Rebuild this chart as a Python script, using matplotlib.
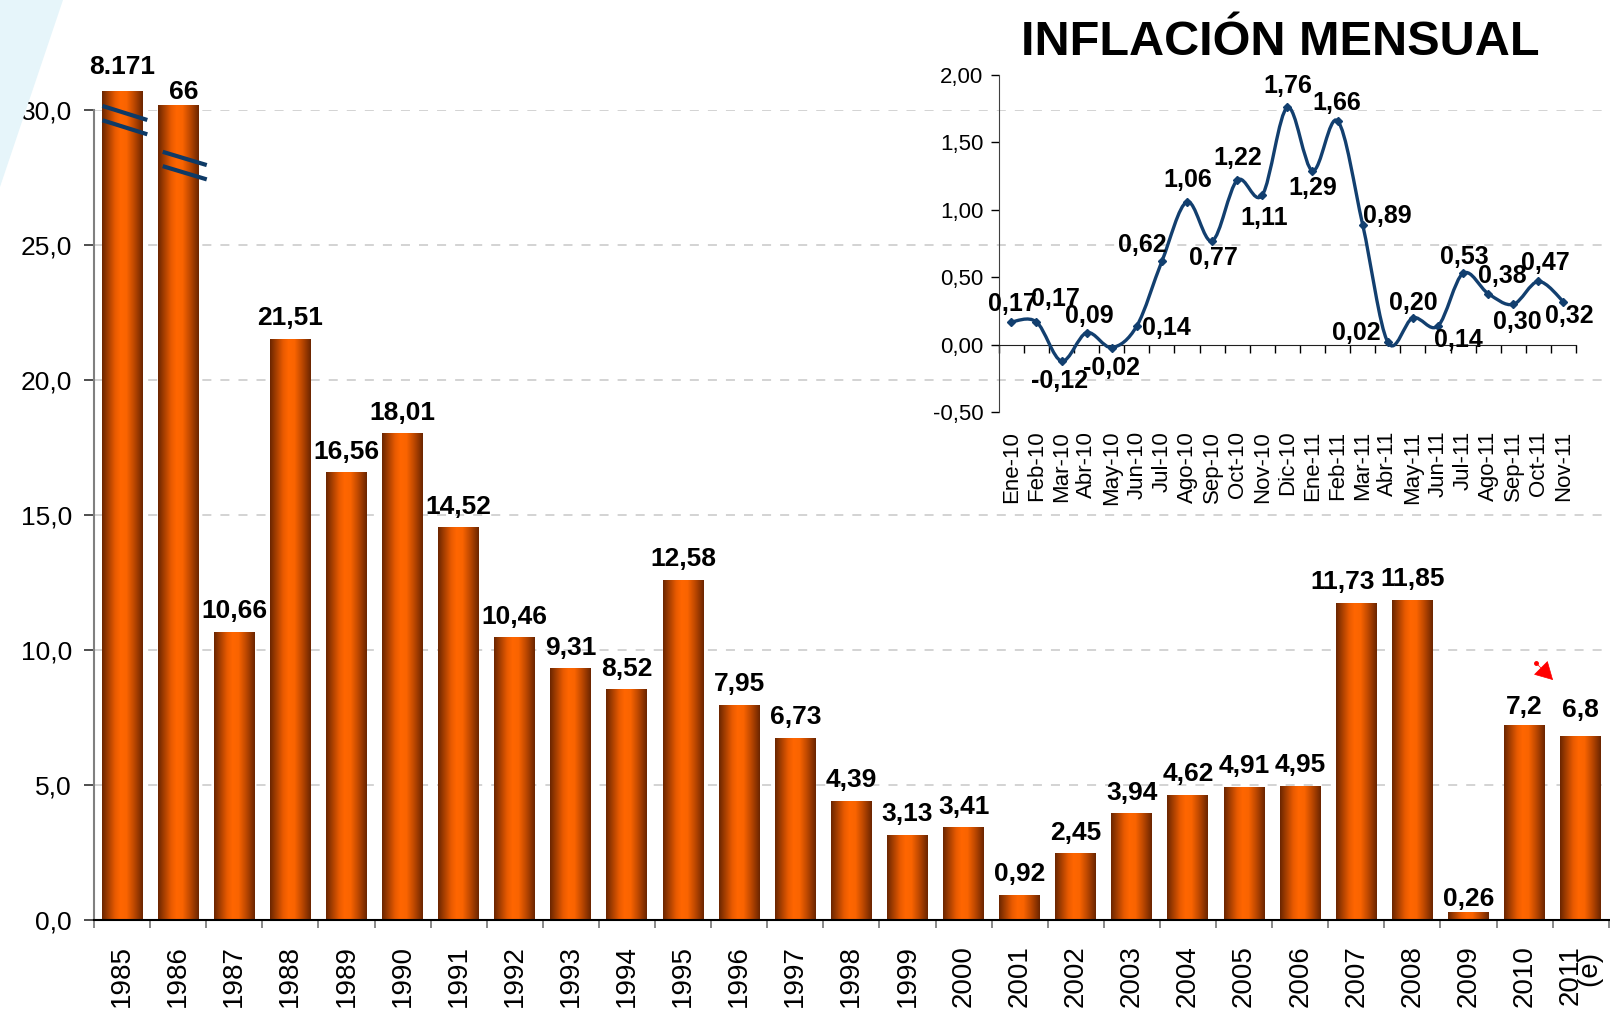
import numpy as np
import matplotlib
matplotlib.use("Agg")
import matplotlib.pyplot as plt
from matplotlib.colors import LinearSegmentedColormap
from matplotlib.path import Path
from matplotlib.patches import PathPatch, Polygon, FancyArrowPatch
from matplotlib.lines import Line2D
from matplotlib.transforms import blended_transform_factory

plt.rcParams['font.family'] = ['Liberation Sans', 'DejaVu Sans']

# annual inflation (bars)
years = [str(y) for y in range(1985, 2012)]
year_labels = years[:-1] + ['2011\n(e) ']
values = [8171, 66, 10.66, 21.51, 16.56, 18.01, 14.52, 10.46, 9.31, 8.52, 12.58,
          7.95, 6.73, 4.39, 3.13, 3.41, 0.92, 2.45, 3.94, 4.62, 4.91, 4.95,
          11.73, 11.85, 0.26, 7.2, 6.8]
value_labels = ['8.171', '66', '10,66', '21,51', '16,56', '18,01', '14,52', '10,46',
                '9,31', '8,52', '12,58', '7,95', '6,73', '4,39', '3,13', '3,41',
                '0,92', '2,45', '3,94', '4,62', '4,91', '4,95', '11,73', '11,85',
                '0,26', '7,2', '6,8']
# heights drawn for the two off-scale (broken) bars
broken_heights = {0: 30.7, 1: 30.15}

# monthly inflation (inset)
months = ['Ene-10', 'Feb-10', 'Mar-10', 'Abr-10', 'May-10', 'Jun-10', 'Jul-10',
          'Ago-10', 'Sep-10', 'Oct-10', 'Nov-10', 'Dic-10', 'Ene-11', 'Feb-11',
          'Mar-11', 'Abr-11', 'May-11', 'Jun-11', 'Jul-11', 'Ago-11', 'Sep-11',
          'Oct-11', 'Nov-11']
monthly = [0.17, 0.17, -0.12, 0.09, -0.02, 0.14, 0.62, 1.06, 0.77, 1.22, 1.11,
           1.76, 1.29, 1.66, 0.89, 0.02, 0.20, 0.14, 0.53, 0.38, 0.30, 0.47, 0.32]

W, H = 1610, 1010
fig = plt.figure(figsize=(W / 100, H / 100), dpi=100)
fig.patch.set_facecolor('white')

# pale decoration top-left
fig.patches.append(Polygon([(0, 1), (63 / W, 1), (0, 1 - 187 / H)], closed=True,
                           transform=fig.transFigure, facecolor='#E6F5FA',
                           edgecolor='none', zorder=0))

# ---- main bar chart ----
ax = fig.add_axes([94 / W, 1 - 920 / H, (1608.7 - 94) / W, (920 - 110) / H])
ax.set_facecolor('none')
x = np.arange(len(years))
shown = [broken_heights.get(i, v) for i, v in enumerate(values)]
bars = ax.bar(x, shown, width=0.73, color='none', edgecolor='none', zorder=2,
              clip_on=False)

cmap = LinearSegmentedColormap.from_list('bar', [
    (0.0, '#6A2500'), (0.12, '#9A3A00'), (0.32, '#E85A00'), (0.45, '#FF6600'),
    (0.6, '#FA6400'), (0.8, '#B84600'), (1.0, '#6A2500')])
grad = np.linspace(0, 1, 256).reshape(1, -1)
for b in bars:
    x0, w, h = b.get_x(), b.get_width(), b.get_height()
    ax.imshow(grad, cmap=cmap, aspect='auto', extent=[x0, x0 + w, 0, h],
              interpolation='bilinear', zorder=2, clip_on=False)

ax.set_xlim(-0.5, len(years) - 0.5)
ax.set_ylim(0, 30)
ax.set_yticks(np.arange(0, 31, 5))
ax.set_yticklabels([f'{v:.1f}'.replace('.', ',') for v in np.arange(0, 31, 5)])
ax.yaxis.grid(True, linestyle=(0, (5, 5)), color='#D0D0D0', lw=1.3)
ax.set_axisbelow(True)
ax.set_xticks(x)
ax.set_xticklabels(year_labels, rotation=90, linespacing=0.7,
                   multialignment='right')
ax.set_xticks(np.arange(-0.5, len(years)), minor=True)
ax.tick_params(axis='x', which='major', length=0, pad=18, labelsize=20)
ax.tick_params(axis='x', which='minor', length=6, width=1.3, color='#808080')
ax.tick_params(axis='y', length=7, width=1.3, color='#404040', labelsize=19, pad=9)
for s in ('top', 'right'):
    ax.spines[s].set_visible(False)
ax.spines['left'].set_color('#808080')
ax.spines['left'].set_linewidth(1.5)
ax.spines['bottom'].set_color('black')
ax.spines['bottom'].set_linewidth(1.5)

label_offsets = {0: (0, 17), 1: (6, 7), 22: (-14, 14), 24: (0, 7), 25: (0, 12),
                 26: (0, 19)}
for i, (b, lab) in enumerate(zip(bars, value_labels)):
    dx, dy = label_offsets.get(i, (0, 14))
    ax.annotate(lab, (b.get_x() + b.get_width() / 2, b.get_height()),
                xytext=(dx, dy), textcoords='offset pixels', ha='center',
                va='baseline', fontsize=19, fontweight='bold', annotation_clip=False)

# break marks on off-scale bars
break_marks = [(0, -0.35, 0.45, 30.15, 29.63, 0.53),
               (1, -0.275, 0.51, 28.45, 27.96, 0.53)]
for i, l, r, y1, y2, gap in break_marks:
    for k in range(2):
        ax.plot([i + l, i + r], [y1 - k * gap, y2 - k * gap], color='#0E3A66',
                lw=3.0, solid_capstyle='butt', clip_on=False, zorder=4)

# red arrow near 2010-2011
fig.add_artist(FancyArrowPatch(
    (1538, H - 665), (1553, H - 680), transform=None,
    arrowstyle='-|>,head_length=0.9,head_width=0.5', mutation_scale=13,
    color='#FF0000', lw=0.5, shrinkA=0, shrinkB=0))
fig.add_artist(Line2D([1536], [H - 663], transform=None,
                      marker='o', ms=2.5, color='#FF0000'))

# ---- inset: monthly inflation ----
ax2 = fig.add_axes([998.8 / W, 1 - 412.3 / H, 577.2 / W, 337.3 / H])
ax2.set_facecolor('none')
xm = np.arange(len(months))
ym = np.array(monthly)
navy = '#123F6F'

# smoothed line (cubic Bezier segments through the points)
pts = np.column_stack([xm, ym]).astype(float)
ext = np.vstack([pts[0], pts, pts[-1]])
verts = [pts[0]]
codes = [Path.MOVETO]
for k in range(len(pts) - 1):
    p0, p1, p2, p3 = ext[k], ext[k + 1], ext[k + 2], ext[k + 3]
    verts += [p1 + (p2 - p0) / 6, p2 - (p3 - p1) / 6, p2]
    codes += [Path.CURVE4] * 3
ax2.add_patch(PathPatch(Path(verts, codes), facecolor='none', edgecolor=navy,
                        lw=2.4, zorder=3))
ax2.plot(xm, ym, ls='none', marker='D', ms=4.5, color=navy, zorder=4)

ax2.set_xlim(-0.5, len(months) - 0.5)
ax2.set_ylim(-0.5, 2.0)
yt = np.arange(-0.5, 2.01, 0.5)
ax2.set_yticks(yt)
ax2.set_yticklabels([f'{v:.2f}'.replace('.', ',') for v in yt])
ax2.tick_params(axis='y', length=6, width=1, labelsize=16, pad=5)
ax2.set_xticks(np.arange(-0.5, len(months)), minor=True)
ax2.set_xticks([])
ax2.tick_params(axis='x', which='minor', length=6, width=1, direction='out')
ax2.spines['bottom'].set_position(('data', 0))
for s in ('top', 'right'):
    ax2.spines[s].set_visible(False)
ax2.spines['left'].set_color('#404040')
ax2.spines['bottom'].set_color('#202020')

tr = blended_transform_factory(ax2.transData, ax2.transAxes)
for i, m in enumerate(months):
    ax2.text(i, -0.055, m, transform=tr, rotation=90, ha='center', va='top',
             fontsize=16)

month_offsets = [(1, 18), (19, 23), (-2, -20), (3, 17), (0, -20), (30, -2),
                 (-20, 16), (1, 22), (1, -17), (1, 22), (2, -23), (0, 21),
                 (0, -17), (-1, 18), (25, 9), (-31, 9), (0, 15), (20, -14),
                 (1, 16), (14, 18), (4, -18), (7, 18), (6, -14)]
for i, v in enumerate(monthly):
    dx, dy = month_offsets[i]
    ax2.annotate(f'{v:.2f}'.replace('.', ','), (i, v), xytext=(dx, dy),
                 textcoords='offset pixels', ha='center', va='center',
                 fontsize=18, fontweight='bold', annotation_clip=False, zorder=5)

fig.text(1280 / W, 1 - 55 / H, 'INFLACIÓN MENSUAL', fontsize=35,
         fontweight='bold', ha='center', va='baseline')

fig.savefig('out.png', dpi=100)
